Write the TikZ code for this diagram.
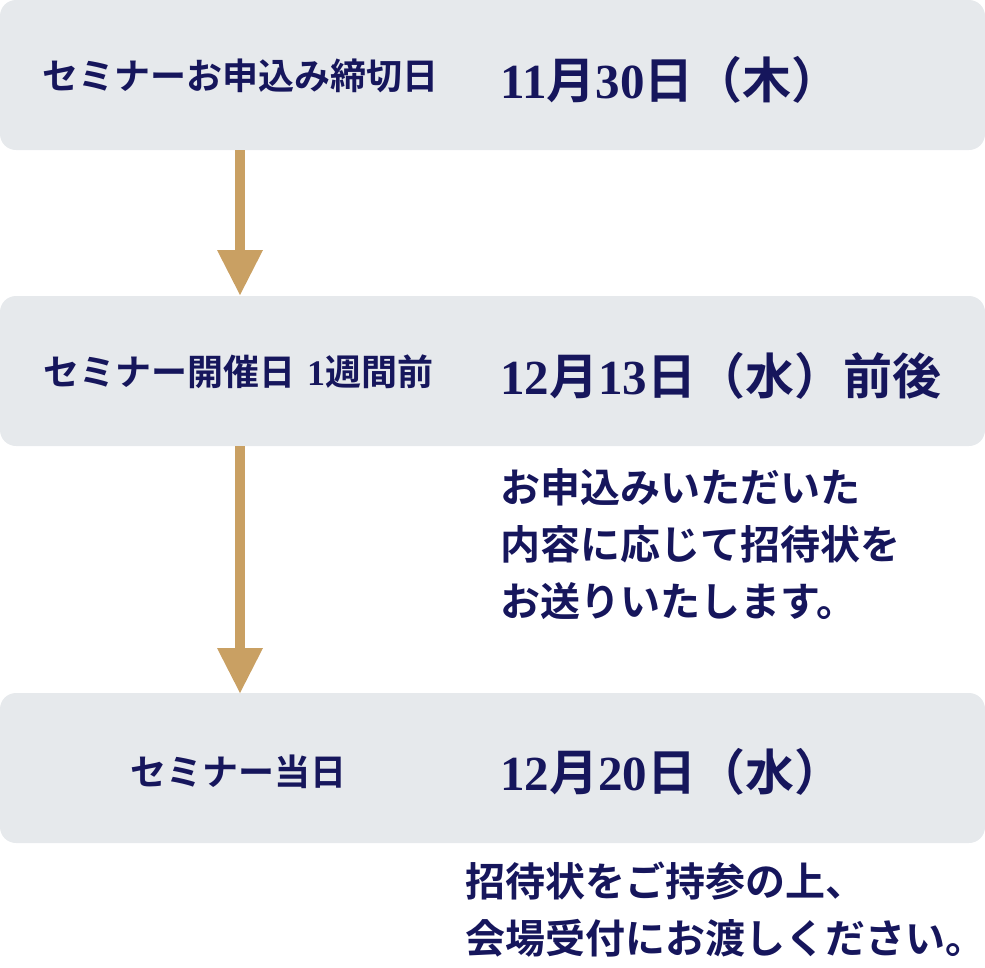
\documentclass[tikz,border=0pt]{standalone}
\usepackage{fontspec}
\newfontfamily\jp{Noto Sans CJK JP Bold}
\newfontfamily\dig{Liberation Serif Bold}
\definecolor{boxg}{HTML}{E6E9EC}
\definecolor{navy}{HTML}{16165C}
\definecolor{gold}{HTML}{C9A063}
\tikzset{
 box/.style={fill=boxg,rounded corners=16pt},
 lab/.style={text=navy,font=\jp\fontsize{36}{39}\selectfont,inner sep=0},
 date/.style={text=navy,font=\jp\fontsize{49}{52}\selectfont,anchor=west,inner sep=0},
 note/.style={text=navy,font=\jp\fontsize{40}{57}\selectfont,anchor=north west,align=left,inner sep=0},
 shaft/.style={draw=gold,line width=10pt},
 head/.style={fill=gold}
}
\begin{document}
\begin{tikzpicture}[x=1pt,y=-1pt]
\useasboundingbox (0,0) rectangle (985,967);
\fill[box] (0,0) rectangle (985,150);
\fill[box] (0,296) rectangle (985,446);
\fill[box] (0,693) rectangle (985,843);
\coordinate (a1s) at (240,150); \coordinate (a1e) at (240,252);
\coordinate (a2s) at (240,446); \coordinate (a2e) at (240,650);
\draw[shaft] (a1s) -- (a1e);
\fill[head] (217,250) -- (263,250) -- (240,295) -- cycle;
\draw[shaft] (a2s) -- (a2e);
\fill[head] (217,648) -- (263,648) -- (240,693) -- cycle;
\node[lab] (l1) at (240,76) {セミナーお申込み締切日};
\node[lab] (l2) at (238,372) {セミナー開催日\,\,{\dig 1}週間前};
\node[lab] (l3) at (238,772) {セミナー当日};
\node[date] (d1) at (500,80) {{\dig 11}月{\dig 30}日（木）};
\node[date] (d2) at (500,376) {{\dig 12}月{\dig 13}日（水）前後};
\node[date] (d3) at (500,772) {{\dig 12}月{\dig 20}日（水）};
\node[note] (n1) at (500,468) {お申込みいただいた\\内容に応じて招待状を\\お送りいたします。};
\node[note] (n2) at (465,862) {招待状をご持参の上、\\会場受付にお渡しください。};
\end{tikzpicture}
\end{document}
